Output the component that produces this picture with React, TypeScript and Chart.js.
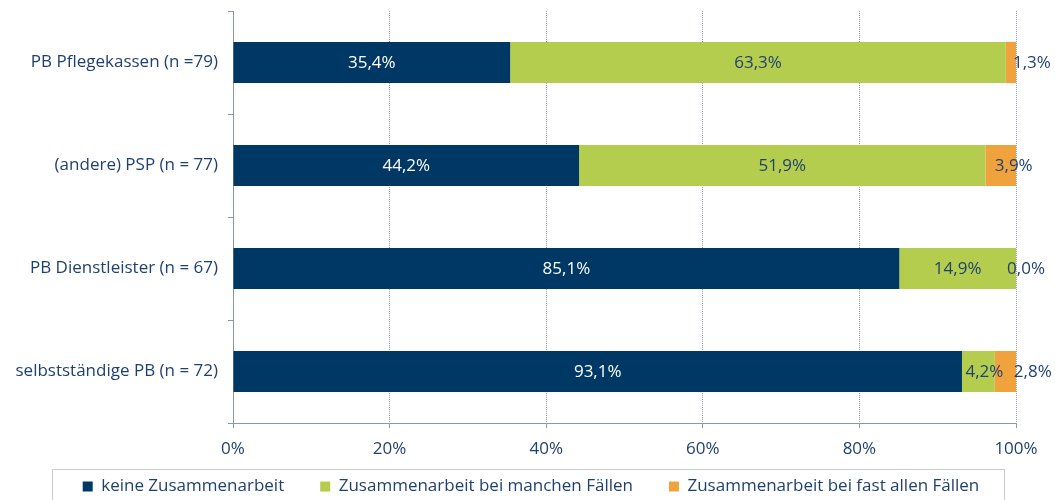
import React, { useEffect, useRef } from "react";
import { Chart, registerables } from "chart.js";

Chart.register(...registerables);

const categories = [
  "PB Pflegekassen (n =79)",
  "(andere) PSP (n = 77)",
  "PB Dienstleister (n = 67)",
  "selbstständige PB (n = 72)",
];
const seriesNames = [
  "keine Zusammenarbeit",
  "Zusammenarbeit bei manchen Fällen",
  "Zusammenarbeit bei fast allen Fällen",
];
const keineValues = [35.4, 44.2, 85.1, 93.1];
const mancheValues = [63.3, 51.9, 14.9, 4.2];
const fastAlleValues = [1.3, 3.9, 0.0, 2.8];
const xTickValues = [0, 20, 40, 60, 80, 100];

const COLORS = ["#003865", "#B5CD4E", "#F0A33C"];
const TEXT = "#1F4170";
const AXIS = "#8C96A6";
const GRID = "#8E99AE";
const FONT = "'Open Sans'";
const FONT_SIZE = 17;
const LEGEND_BOX_WIDTH = 952;

// pixel nudges of the value labels (per dataset, per category)
const labelNudge = [
  [0, 0, 0, 0],
  [0, 0, 0, 6],
  [21, 13, 10, 27],
];

const fmt = (v: number) => v.toFixed(1).replace(".", ",") + "%";

const dataLabelPlugin = {
  id: "dataLabels",
  afterDatasetsDraw(chart: any) {
    const ctx = chart.ctx;
    ctx.save();
    ctx.font = `${FONT_SIZE}px ${FONT}`;
    ctx.textAlign = "center";
    ctx.textBaseline = "middle";
    chart.data.datasets.forEach((ds: any, di: number) => {
      const meta = chart.getDatasetMeta(di);
      meta.data.forEach((el: any, i: number) => {
        const { x, y, base } = el.getProps(["x", "y", "base"], true);
        const cx = (x + base) / 2 + labelNudge[di][i];
        ctx.fillStyle = di === 0 ? "#FFFFFF" : TEXT;
        ctx.fillText(fmt(ds.data[i]), cx, y + 1);
      });
    });
    ctx.restore();
  },
};

const legendBoxPlugin = {
  id: "legendBox",
  afterLayout(chart: any) {
    const lg = chart.legend;
    if (lg) {
      lg.left += 23;
      lg.right += 23;
      const dy = chart.chartArea.bottom + 19 - lg.top;
      lg.top += dy;
      lg.bottom += dy;
    }
  },
  afterDraw(chart: any) {
    const lg = chart.legend;
    if (!lg) return;
    const ctx = chart.ctx;
    const center = (lg.left + lg.right) / 2 - 3;
    const left = Math.round(center - LEGEND_BOX_WIDTH / 2);
    const top = Math.round(lg.top + 27);
    ctx.save();
    ctx.strokeStyle = "#CBCBCB";
    ctx.lineWidth = 1;
    ctx.strokeRect(left + 0.5, top + 0.5, LEGEND_BOX_WIDTH, 80);
    ctx.restore();
  },
};

export default function App() {
  const canvasRef = useRef<HTMLCanvasElement | null>(null);

  useEffect(() => {
    document.body.style.margin = "0";
    const canvas = canvasRef.current;
    if (!canvas) return;
    const chart = new Chart(canvas, {
      type: "bar",
      data: {
        labels: categories,
        datasets: [
          { label: seriesNames[0], data: keineValues, backgroundColor: COLORS[0], borderWidth: 0 },
          { label: seriesNames[1], data: mancheValues, backgroundColor: COLORS[1], borderWidth: 0 },
          { label: seriesNames[2], data: fastAlleValues, backgroundColor: COLORS[2], borderWidth: 0 },
        ],
      },
      options: {
        indexAxis: "y",
        responsive: false,
        animation: false,
        maintainAspectRatio: false,
        datasets: { bar: { categoryPercentage: 1, barPercentage: 0.4 } },
        layout: { padding: { left: 0, right: 39, top: 11, bottom: -22 } },
        scales: {
          x: {
            stacked: true,
            min: 0,
            max: 100,
            afterFit: (s: any) => {
              s.height = 36;
            },
            afterBuildTicks: (s: any) => {
              s.ticks = xTickValues.map((v) => ({ value: v }));
            },
            ticks: {
              callback: (v: any) => v + "%",
              color: TEXT,
              font: { family: FONT, size: FONT_SIZE },
              padding: 11,
              maxRotation: 0,
            },
            grid: {
              color: GRID,
              tickBorderDash: [],
              tickColor: AXIS,
              tickLength: 5,
              drawTicks: true,
            },
            border: { display: true, color: AXIS, width: 1, dash: [1, 1] },
          },
          y: {
            stacked: true,
            afterFit: (s: any) => {
              s.width = 233;
              s.paddingTop = 0;
              s.paddingBottom = 0;
            },
            ticks: {
              color: TEXT,
              font: { family: FONT, size: FONT_SIZE },
              padding: 10,
            },
            grid: {
              offset: true,
              drawOnChartArea: false,
              drawTicks: true,
              tickLength: 5,
              color: AXIS,
            },
            border: { display: true, color: AXIS, width: 1 },
          },
        },
        plugins: {
          legend: {
            position: "bottom",
            labels: {
              boxWidth: 10,
              boxHeight: 10,
              padding: 36,
              color: TEXT,
              font: { family: FONT, size: FONT_SIZE },
            },
          },
          tooltip: { enabled: false },
        },
      },
      plugins: [dataLabelPlugin, legendBoxPlugin],
    });
    return () => chart.destroy();
  }, []);

  return (
    <div style={{ width: 1055, height: 500 }}>
      <canvas ref={canvasRef} width={1055} height={500} style={{ display: "block" }} />
    </div>
  );
}
